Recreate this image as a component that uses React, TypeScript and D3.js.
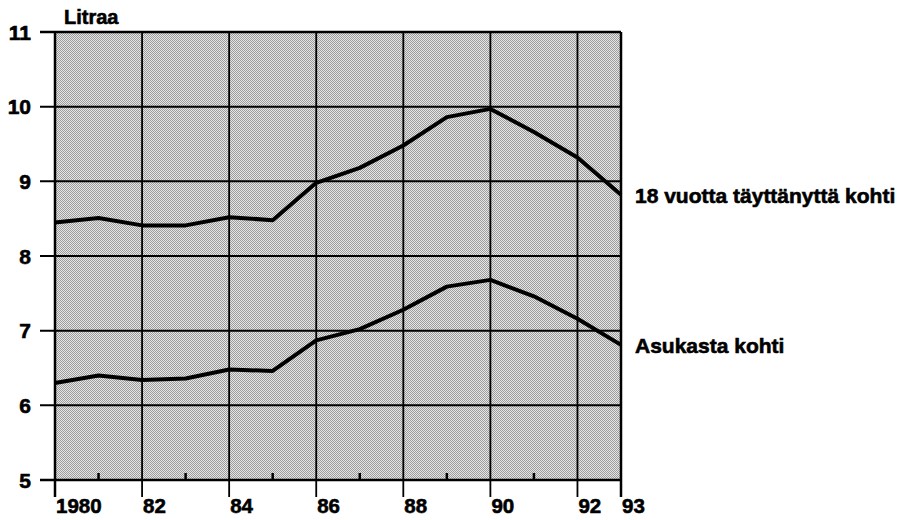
import { useEffect, useRef } from "react"
import * as d3 from "d3"

const years = [1980, 1981, 1982, 1983, 1984, 1985, 1986, 1987, 1988, 1989, 1990, 1991, 1992, 1993]
const adultValues = [8.45, 8.51, 8.41, 8.41, 8.52, 8.48, 8.98, 9.18, 9.48, 9.86, 9.97, 9.66, 9.32, 8.82]
const perCapitaValues = [6.3, 6.4, 6.34, 6.36, 6.48, 6.46, 6.87, 7.02, 7.28, 7.59, 7.68, 7.46, 7.16, 6.81]
const seriesLabels = ["18 vuotta täyttänyttä kohti", "Asukasta kohti"]
const xTickYears = [1980, 1982, 1984, 1986, 1988, 1990, 1992, 1993]
const xTickLabels = ["1980", "82", "84", "86", "88", "90", "92", "93"]
const minorYears = [1981, 1983, 1985, 1987, 1989, 1991]
const yTicks = [5, 6, 7, 8, 9, 10, 11]
const yTitle = "Litraa"

export default function App() {
  const svgRef = useRef<SVGSVGElement>(null)

  useEffect(() => {
    if (!svgRef.current) return
    const svg = d3.select(svgRef.current)
    svg.selectAll("*").remove()

    const font = "'Liberation Sans', Arial, sans-serif"
    const x = d3.scaleLinear().domain([1980, 1993]).range([55, 621])
    const y = d3.scaleLinear().domain([5, 11]).range([480, 32])
    const [x0, x1] = x.range()
    const [yb, yt] = y.range()

    // halftone background pattern
    const defs = svg.append("defs")
    const pat = defs
      .append("pattern")
      .attr("id", "halftone")
      .attr("width", 2)
      .attr("height", 2)
      .attr("patternUnits", "userSpaceOnUse")
    pat.append("rect").attr("width", 2).attr("height", 2).attr("fill", "#e6e6e6")
    pat.append("rect").attr("width", 1).attr("height", 1).attr("fill", "#9c9c9c")
    pat.append("rect").attr("x", 1).attr("y", 1).attr("width", 1).attr("height", 1).attr("fill", "#9c9c9c")

    svg
      .append("rect")
      .attr("x", x0)
      .attr("y", yt)
      .attr("width", x1 - x0)
      .attr("height", yb - yt)
      .attr("fill", "url(#halftone)")

    // horizontal grid
    svg
      .append("g")
      .selectAll("line")
      .data(yTicks)
      .enter()
      .append("line")
      .attr("x1", 40)
      .attr("x2", x1)
      .attr("y1", (d) => y(d))
      .attr("y2", (d) => y(d))
      .attr("stroke", "#000")
      .attr("stroke-width", (d) => (d === 5 || d === 11 ? 2.5 : 2))

    // vertical grid + ticks below
    svg
      .append("g")
      .selectAll("line")
      .data(xTickYears)
      .enter()
      .append("line")
      .attr("x1", (d) => x(d))
      .attr("x2", (d) => x(d))
      .attr("y1", yt)
      .attr("y2", yb + 17)
      .attr("stroke", "#000")
      .attr("stroke-width", (d) => (d === 1980 || d === 1993 ? 2.5 : 1.8))

    // minor ticks
    svg
      .append("g")
      .selectAll("line")
      .data(minorYears)
      .enter()
      .append("line")
      .attr("x1", (d) => x(d))
      .attr("x2", (d) => x(d))
      .attr("y1", yb)
      .attr("y2", yb - 7)
      .attr("stroke", "#000")
      .attr("stroke-width", 2.5)

    // lines
    const line = d3
      .line<number>()
      .x((_, i) => x(years[i]))
      .y((d) => y(d))

    ;[adultValues, perCapitaValues].forEach((vals) => {
      svg
        .append("path")
        .datum(vals)
        .attr("d", line)
        .attr("fill", "none")
        .attr("stroke", "#000")
        .attr("stroke-width", 4)
        .attr("stroke-linejoin", "round")
    })

    const boldText = (sel: d3.Selection<SVGTextElement, any, any, any>, size: number) =>
      sel
        .style("font-family", font)
        .style("font-weight", "bold")
        .style("font-size", `${size}px`)
        .attr("fill", "#000")
        .attr("stroke", "#000")
        .attr("stroke-width", 0.6)

    // y labels
    boldText(
      svg
        .append("g")
        .selectAll("text")
        .data(yTicks)
        .enter()
        .append("text")
        .attr("x", 31)
        .attr("y", (d) => y(d))
        .attr("dy", "0.36em")
        .attr("text-anchor", "end")
        .text((d) => String(d)),
      21,
    )

    // x labels
    boldText(
      svg
        .append("g")
        .selectAll("text")
        .data(xTickYears)
        .enter()
        .append("text")
        .attr("x", (d) => x(d) + 1)
        .attr("y", 513)
        .text((_, i) => xTickLabels[i]),
      20.5,
    )

    // axis title
    boldText(svg.append("text").attr("x", 64).attr("y", 24).text(yTitle), 20)

    // series labels
    const lastVals = [adultValues[adultValues.length - 1], perCapitaValues[perCapitaValues.length - 1]]
    boldText(
      svg
        .append("g")
        .selectAll("text")
        .data(seriesLabels)
        .enter()
        .append("text")
        .attr("x", x1 + 14)
        .attr("y", (_, i) => y(lastVals[i]) + 8)
        .text((d) => d),
      21,
    )
  }, [])

  return (
    <div style={{ position: "fixed", left: 0, top: 0, width: 908, height: 520, background: "#fff" }}>
      <svg ref={svgRef} width={908} height={520} style={{ display: "block" }}></svg>
    </div>
  )
}
